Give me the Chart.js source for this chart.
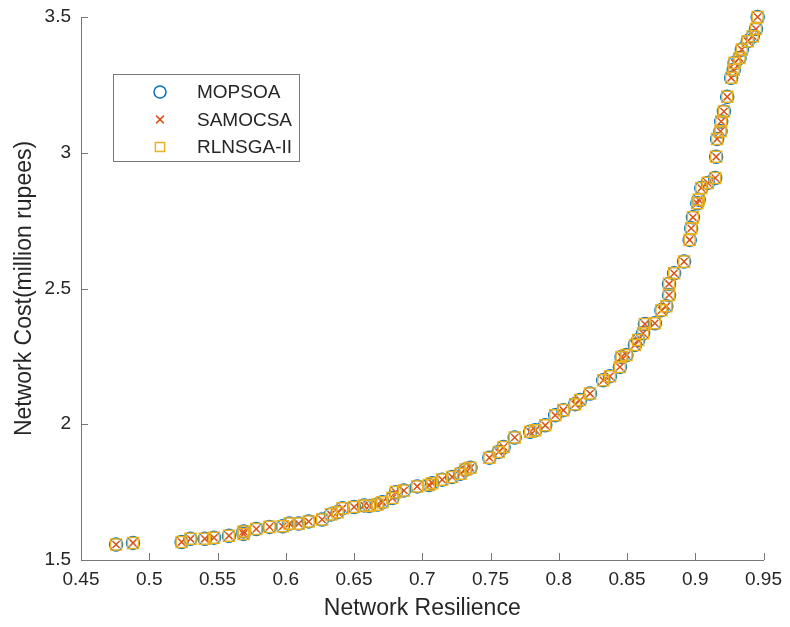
<!DOCTYPE html>
<html>
<head>
<meta charset="utf-8">
<title>Network Resilience vs Cost</title>
<script src="https://cdn.jsdelivr.net/npm/chart.js@4"></script>
<style>
  html, body { margin: 0; padding: 0; background: #fff; }
  #wrap { width: 790px; height: 627px; }
</style>
</head>
<body>
<div id="wrap"><canvas id="chart1"></canvas></div>
<script>
// Pareto front points (all three algorithms land on the same solutions)
var resilience = [
  0.4757, 0.4881, 0.5237, 0.5302, 0.5407, 0.5474, 0.5584, 0.5691, 0.5691, 0.5784,
  0.5881, 0.5978, 0.6027, 0.6095, 0.6168, 0.6266, 0.6331, 0.6380, 0.6416, 0.6501,
  0.6574, 0.6611, 0.6672, 0.6708, 0.6781, 0.6806, 0.6866, 0.6963, 0.7049, 0.7073,
  0.7146, 0.7219, 0.7280, 0.7317, 0.7353, 0.7492, 0.7560, 0.7596, 0.7677, 0.7791,
  0.7828, 0.7901, 0.7974, 0.8034, 0.8120, 0.8156, 0.8229, 0.8326, 0.8375, 0.8448,
  0.8460, 0.8496, 0.8558, 0.8582, 0.8618, 0.8631, 0.8704, 0.8752, 0.8788, 0.8808,
  0.8808, 0.8845, 0.8918, 0.8959, 0.8970, 0.8983, 0.9015, 0.9025, 0.9044, 0.9092,
  0.9146, 0.9153, 0.9160, 0.9185, 0.9190, 0.9210, 0.9234, 0.9263, 0.9282, 0.9288,
  0.9324, 0.9341, 0.9384, 0.9421, 0.9445, 0.9457
];
var cost = [
  1.557, 1.563, 1.566, 1.578, 1.578, 1.582, 1.589, 1.596, 1.605, 1.614,
  1.622, 1.624, 1.634, 1.634, 1.642, 1.649, 1.668, 1.676, 1.691, 1.695,
  1.701, 1.699, 1.704, 1.713, 1.728, 1.750, 1.756, 1.771, 1.776, 1.783,
  1.796, 1.806, 1.818, 1.833, 1.840, 1.877, 1.898, 1.916, 1.951, 1.972,
  1.978, 1.996, 2.033, 2.052, 2.074, 2.089, 2.113, 2.162, 2.177, 2.211,
  2.248, 2.255, 2.292, 2.310, 2.335, 2.369, 2.372, 2.420, 2.435, 2.476,
  2.517, 2.556, 2.599, 2.679, 2.722, 2.762, 2.814, 2.827, 2.870, 2.889,
  2.907, 2.985, 3.051, 3.079, 3.115, 3.152, 3.206, 3.276, 3.306, 3.331,
  3.349, 3.380, 3.411, 3.429, 3.456, 3.500
];

var seriesNames = ['MOPSOA', 'SAMOCSA', 'RLNSGA-II'];
var seriesColors = ['#0072BD', '#D95319', '#EDB120'];
var seriesMarkers = ['circle', 'crossRot', 'rect'];
var seriesRadius = [6.5, 5, 7.8];

var xTicks = [0.45, 0.5, 0.55, 0.6, 0.65, 0.7, 0.75, 0.8, 0.85, 0.9, 0.95];
var yTicks = [1.5, 2, 2.5, 3, 3.5];

var axisColor = '#777777';
var textColor = '#262626';
var fontFamily = '"Liberation Sans", Arial, Helvetica, sans-serif';

function points() {
  return resilience.map(function (x, i) { return { x: x, y: cost[i] }; });
}

// short tick marks pointing into the plot
var inwardTicks = {
  id: 'inwardTicks',
  afterDatasetsDraw: function (chart) {
    var ctx = chart.ctx, a = chart.chartArea;
    var xs = chart.scales.x, ys = chart.scales.y;
    ctx.save();
    ctx.strokeStyle = axisColor;
    ctx.lineWidth = 1;
    ctx.beginPath();
    xTicks.forEach(function (v) {
      var px = Math.round(xs.getPixelForValue(v)) + 0.5;
      ctx.moveTo(px, a.bottom);
      ctx.lineTo(px, a.bottom - 7);
    });
    yTicks.forEach(function (v) {
      var py = Math.round(ys.getPixelForValue(v)) + 0.5;
      ctx.moveTo(a.left, py);
      ctx.lineTo(a.left + 7, py);
    });
    ctx.stroke();
    ctx.restore();
  }
};

function drawMarker(ctx, style, r, x, y) {
  ctx.beginPath();
  if (style === 'circle') {
    ctx.arc(x, y, r, 0, Math.PI * 2);
  } else if (style === 'crossRot') {
    var d = r * Math.SQRT1_2;
    ctx.moveTo(x - d, y - d); ctx.lineTo(x + d, y + d);
    ctx.moveTo(x - d, y + d); ctx.lineTo(x + d, y - d);
  } else {
    var s = r * Math.SQRT1_2;
    ctx.rect(x - s, y - s, 2 * s, 2 * s);
  }
  ctx.stroke();
}

// boxed legend sitting inside the upper-left part of the plot
var boxLegend = {
  id: 'boxLegend',
  afterDraw: function (chart) {
    var ctx = chart.ctx;
    var legendRadius = [6, 5.5, 6.5];
    ctx.save();
    ctx.fillStyle = '#ffffff';
    ctx.fillRect(113, 74, 186, 87);
    ctx.strokeStyle = axisColor;
    ctx.lineWidth = 1;
    ctx.strokeRect(113.5, 74.5, 186, 87);
    ctx.font = '19px ' + fontFamily;
    ctx.textBaseline = 'middle';
    ctx.textAlign = 'left';
    seriesNames.forEach(function (name, i) {
      var y = 92 + i * 27.5;
      ctx.strokeStyle = seriesColors[i];
      ctx.lineWidth = 1.5;
      drawMarker(ctx, seriesMarkers[i], legendRadius[i], 160, y);
      ctx.fillStyle = textColor;
      ctx.fillText(name, 197, y + 1);
    });
    ctx.restore();
  }
};

var datasets = seriesNames.map(function (name, i) {
  return {
    label: name,
    data: points(),
    showLine: false,
    clip: false,
    pointStyle: seriesMarkers[i],
    pointRadius: seriesRadius[i],
    pointHoverRadius: seriesRadius[i],
    pointBorderWidth: 1.5,
    pointBorderColor: seriesColors[i],
    pointBackgroundColor: 'rgba(0,0,0,0)',
    borderColor: seriesColors[i],
    order: 3 - i
  };
});

function tickLabel(v) {
  return String(Number(v.toFixed(2)));
}

var ctx = document.getElementById('chart1').getContext('2d');
new Chart(ctx, {
  type: 'scatter',
  data: { datasets: datasets },
  options: {
    responsive: true,
    maintainAspectRatio: false,
    animation: false,
    devicePixelRatio: 1,
    layout: { padding: { left: 0, right: 24, top: 17, bottom: 0 } },
    plugins: {
      legend: { display: false },
      tooltip: { enabled: false }
    },
    scales: {
      x: {
        type: 'linear',
        min: 0.45,
        max: 0.95,
        afterBuildTicks: function (s) { s.ticks = xTicks.map(function (v) { return { value: v }; }); },
        afterFit: function (s) { s.height = 67; },
        grid: { display: false, drawTicks: false },
        border: { display: true, color: axisColor, width: 1 },
        ticks: {
          padding: 8,
          color: textColor,
          font: { family: fontFamily, size: 19 },
          maxRotation: 0,
          autoSkip: false,
          callback: tickLabel
        },
        title: {
          display: true,
          text: 'Network Resilience',
          color: textColor,
          font: { family: fontFamily, size: 23 },
          padding: { top: 0, bottom: 5 }
        }
      },
      y: {
        type: 'linear',
        min: 1.5,
        max: 3.5,
        afterBuildTicks: function (s) { s.ticks = yTicks.map(function (v) { return { value: v }; }); },
        afterFit: function (s) {
          s.width = 81;
          s.paddingTop = 0;
          s.paddingBottom = 0;
        },
        grid: { display: false, drawTicks: false },
        border: { display: true, color: axisColor, width: 1 },
        ticks: {
          padding: 10,
          color: textColor,
          font: { family: fontFamily, size: 19 },
          autoSkip: false,
          callback: tickLabel
        },
        title: {
          display: true,
          text: 'Network Cost(million rupees)',
          color: textColor,
          font: { family: fontFamily, size: 23 },
          padding: { top: 11, bottom: 0 }
        }
      }
    }
  },
  plugins: [inwardTicks, boxLegend]
});
</script>
</body>
</html>
